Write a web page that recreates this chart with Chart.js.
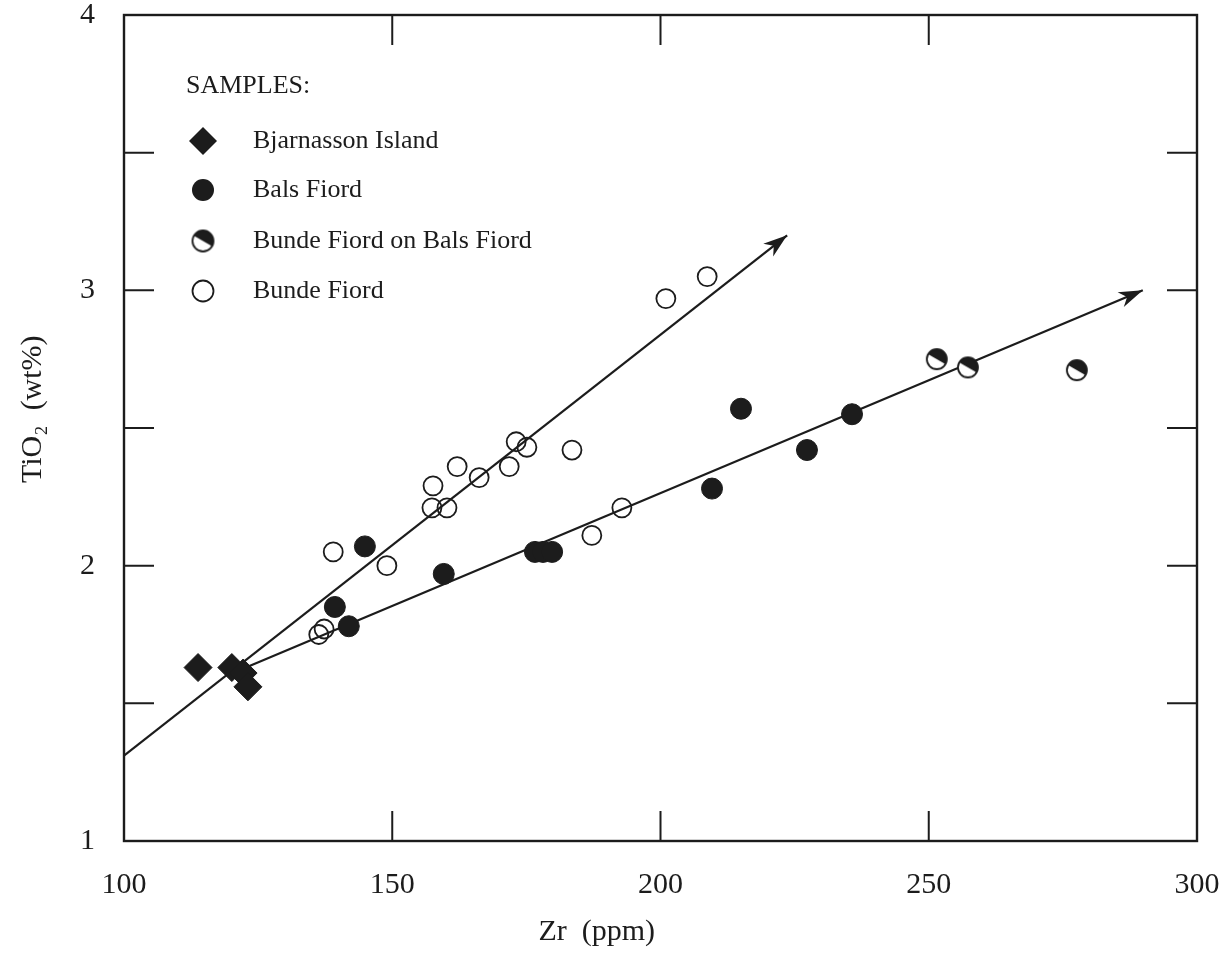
<!DOCTYPE html>
<html>
<head>
<meta charset="utf-8">
<title>TiO2 vs Zr</title>
<script src="https://cdn.jsdelivr.net/npm/chart.js@4"></script>
<style>
  body { margin: 0; background: #fff; }
  #wrap { width: 1222px; height: 960px; }
</style>
</head>
<body>
<div id="wrap"><canvas id="plot" width="1222" height="960"></canvas></div>
<script>
// samples, Zr (ppm) against TiO2 (wt%)
const bjarnassonZr = [113.8, 120.1, 122.2, 123.1];
const bjarnassonTi = [1.63, 1.63, 1.61, 1.56];

const balsZr = [139.3, 141.9, 144.9, 159.6, 176.6, 178.1, 179.8, 209.6, 215.0, 227.3, 235.7];
const balsTi = [1.85, 1.78, 2.07, 1.97, 2.05, 2.05, 2.05, 2.28, 2.57, 2.42, 2.55];

const bundeOnBalsZr = [251.5, 257.3, 277.6];
const bundeOnBalsTi = [2.75, 2.72, 2.71];

const bundeZr = [136.3, 137.3, 139.0, 149.0, 157.4, 157.6, 160.2, 162.1, 166.2, 171.8, 173.1, 175.1, 183.5, 187.2, 192.8, 201.0, 208.7];
const bundeTi = [1.75, 1.77, 2.05, 2.00, 2.21, 2.29, 2.21, 2.36, 2.32, 2.36, 2.45, 2.43, 2.42, 2.11, 2.21, 2.97, 3.05];

// trend lines (end with arrows)
const steepZr = [100, 223.6];
const steepTi = [1.31, 3.20];
const shallowZr = [121.5, 289.9];
const shallowTi = [1.62, 3.0];

const xTicks = [100, 150, 200, 250, 300];
const yLabels = [1, 2, 3, 4];

const INK = "#1c1c1c";
const SERIF = "'Liberation Serif', 'Times New Roman', serif";

function pairs(xs, ys) {
  return xs.map((x, i) => ({ x: x, y: ys[i] }));
}

// half filled circle marker
function halfCircle(r) {
  const c = document.createElement("canvas");
  const s = Math.ceil(r * 2 + 4);
  c.width = s; c.height = s;
  const g = c.getContext("2d");
  const m = s / 2;
  g.beginPath();
  g.arc(m, m, r, 0, Math.PI * 2);
  g.fillStyle = "#fff";
  g.fill();
  const t = Math.PI / 6;
  g.beginPath();
  g.arc(m, m, r, Math.PI + t, 2 * Math.PI + t);
  g.closePath();
  g.fillStyle = INK;
  g.fill();
  g.beginPath();
  g.arc(m, m, r, 0, Math.PI * 2);
  g.lineWidth = 1.8;
  g.strokeStyle = INK;
  g.stroke();
  return c;
}
const halfMarker = halfCircle(10);
const halfKey = halfCircle(10.5);

const datasets = [
  {
    label: "Bjarnasson Island",
    data: pairs(bjarnassonZr, bjarnassonTi),
    pointStyle: "rectRot",
    pointRadius: 14,
    backgroundColor: INK,
    borderColor: INK,
    borderWidth: 1,
    showLine: false,
    order: 1,
  },
  {
    label: "Bals Fiord",
    data: pairs(balsZr, balsTi),
    pointStyle: "circle",
    pointRadius: 10.5,
    backgroundColor: INK,
    borderColor: INK,
    borderWidth: 1,
    showLine: false,
    order: 1,
  },
  {
    label: "Bunde Fiord on Bals Fiord",
    data: pairs(bundeOnBalsZr, bundeOnBalsTi),
    pointStyle: halfMarker,
    pointRadius: 10,
    showLine: false,
    order: 1,
  },
  {
    label: "Bunde Fiord",
    data: pairs(bundeZr, bundeTi),
    pointStyle: "circle",
    pointRadius: 9.5,
    backgroundColor: "rgba(0,0,0,0)",
    borderColor: INK,
    borderWidth: 1.8,
    showLine: false,
    order: 1,
  },
  {
    label: "trend 1",
    data: pairs(steepZr, steepTi),
    showLine: true,
    pointRadius: 0,
    borderColor: INK,
    borderWidth: 2.2,
    arrow: true,
    order: 5,
  },
  {
    label: "trend 2",
    data: pairs(shallowZr, shallowTi),
    showLine: true,
    pointRadius: 0,
    borderColor: INK,
    borderWidth: 2.2,
    arrow: true,
    order: 5,
  },
];

// box round the plot and short inward ticks on all four sides
const frame = {
  id: "frame",
  afterDatasetsDraw(chart) {
    const { ctx, chartArea: a, scales } = chart;
    ctx.save();
    ctx.strokeStyle = INK;
    ctx.lineWidth = 2.4;
    ctx.strokeRect(a.left, a.top, a.right - a.left, a.bottom - a.top);
    ctx.lineWidth = 2;
    const len = 30;
    const xs = scales.x, ys = scales.y;
    xs.ticks.filter(t => t.value > xs.min && t.value < xs.max).forEach(t => {
      const px = xs.getPixelForValue(t.value);
      ctx.beginPath();
      ctx.moveTo(px, a.bottom); ctx.lineTo(px, a.bottom - len);
      ctx.moveTo(px, a.top); ctx.lineTo(px, a.top + len);
      ctx.stroke();
    });
    ys.ticks.filter(t => t.value > ys.min && t.value < ys.max).forEach(t => {
      const py = ys.getPixelForValue(t.value);
      ctx.beginPath();
      ctx.moveTo(a.left, py); ctx.lineTo(a.left + len, py);
      ctx.moveTo(a.right, py); ctx.lineTo(a.right - len, py);
      ctx.stroke();
    });

    // arrow heads at the end of the trend lines
    chart.data.datasets.forEach((ds, i) => {
      if (!ds.arrow) return;
      const pts = chart.getDatasetMeta(i).data;
      const p0 = pts[pts.length - 2], p1 = pts[pts.length - 1];
      const ang = Math.atan2(p1.y - p0.y, p1.x - p0.x);
      ctx.save();
      ctx.translate(p1.x, p1.y);
      ctx.rotate(ang);
      ctx.beginPath();
      ctx.moveTo(0, 0);
      ctx.lineTo(-24, -8);
      ctx.lineTo(-17, 0);
      ctx.lineTo(-24, 8);
      ctx.closePath();
      ctx.fillStyle = INK;
      ctx.fill();
      ctx.restore();
    });
    ctx.restore();
  },
};

// legend box inside the plot
const sampleKey = {
  id: "sampleKey",
  afterDraw(chart) {
    const { ctx, chartArea: a } = chart;
    const mx = a.left + 79, tx = a.left + 129;
    const rows = [a.top + 126, a.top + 175, a.top + 226, a.top + 276];
    ctx.save();
    ctx.fillStyle = INK;
    ctx.font = "26px " + SERIF;
    ctx.textBaseline = "middle";
    ctx.fillText("SAMPLES:", a.left + 62, a.top + 71);
    datasets.slice(0, 4).forEach((ds, i) => {
      const y = rows[i];
      ctx.fillStyle = INK;
      ctx.fillText(ds.label, tx, y);
      if (i === 0) {
        ctx.beginPath();
        ctx.moveTo(mx, y - 14); ctx.lineTo(mx + 14, y);
        ctx.lineTo(mx, y + 14); ctx.lineTo(mx - 14, y);
        ctx.closePath(); ctx.fill();
      } else if (i === 1) {
        ctx.beginPath(); ctx.arc(mx, y, 11, 0, Math.PI * 2); ctx.fill();
      } else if (i === 2) {
        ctx.drawImage(halfKey, mx - halfKey.width / 2, y - halfKey.height / 2);
      } else {
        ctx.beginPath(); ctx.arc(mx, y, 10.5, 0, Math.PI * 2);
        ctx.lineWidth = 1.8; ctx.strokeStyle = INK; ctx.stroke();
      }
    });
    ctx.restore();
  },
};

Chart.defaults.font.family = SERIF;
Chart.defaults.color = INK;

// the titles in the original sit a little off the axis centres; pad with spaces
const xTitle = "Zr  (ppm)" + " ".repeat(17);
const yTitle = " ".repeat(5) + "TiO₂  (wt%)";

new Chart(document.getElementById("plot").getContext("2d"), {
  type: "scatter",
  data: { datasets: datasets },
  options: {
    responsive: false,
    animation: false,
    layout: { padding: { left: 0, top: 15, right: 25, bottom: 0 } },
    plugins: {
      legend: { display: false },
      tooltip: { enabled: false },
    },
    scales: {
      x: {
        type: "linear",
        min: xTicks[0],
        max: xTicks[xTicks.length - 1],
        afterBuildTicks: s => { s.ticks = xTicks.map(v => ({ value: v })); },
        afterFit: s => { s.height = 119; s.paddingLeft = 0; s.paddingRight = 0; },
        grid: { display: false, drawTicks: false },
        border: { display: false },
        ticks: { font: { size: 30 }, padding: 26, color: INK, maxRotation: 0 },
        title: { display: true, text: xTitle, font: { size: 30 }, color: INK, padding: { bottom: 10 } },
      },
      y: {
        type: "linear",
        min: 1,
        max: 4,
        ticks: {
          stepSize: 0.5,
          font: { size: 30 },
          padding: 29,
          color: INK,
          callback: v => (yLabels.includes(v) ? String(v) : ""),
        },
        afterFit: s => { s.width = 124; s.paddingTop = 0; s.paddingBottom = 0; },
        grid: { display: false, drawTicks: false },
        border: { display: false },
        title: { display: true, text: yTitle, font: { size: 30 }, color: INK, padding: { top: 15 } },
      },
    },
  },
  plugins: [frame, sampleKey],
});
</script>
</body>
</html>
